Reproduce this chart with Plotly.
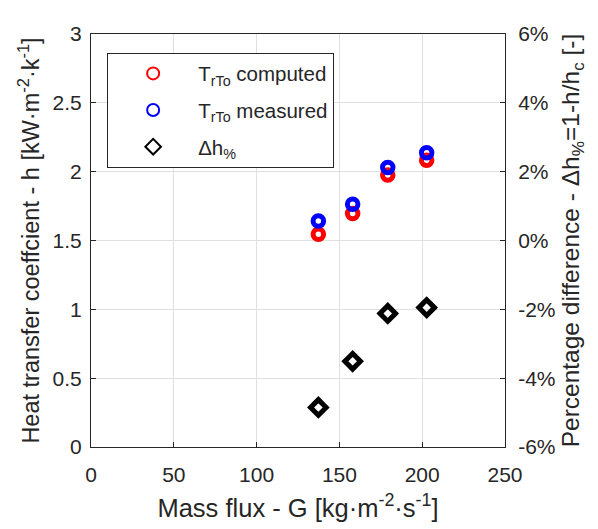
import plotly.graph_objects as go

G = [137.3, 158.0, 179.2, 202.7]
h_computed = [1.546, 1.696, 1.975, 2.083]
h_measured = [1.642, 1.764, 2.030, 2.137]
dh_pct = [-4.85, -3.51, -2.12, -1.95]

x_ticks = [0, 50, 100, 150, 200, 250]
y_ticks = [0, 0.5, 1, 1.5, 2, 2.5, 3]
y_ticktext = ["0", "0.5", "1", "1.5", "2", "2.5", "3"]
y2_ticks = [-6, -4, -2, 0, 2, 4, 6]
y2_ticktext = ["-6%", "-4%", "-2%", "0%", "2%", "4%", "6%"]

FONT = "Liberation Sans, Arial, sans-serif"
AX = "#262626"
GRID = "#e0e0e0"

fig = go.Figure()
fig.add_trace(go.Scatter(
    x=G, y=h_computed, mode="markers", legendgroup="a",
    name="T<sub>rTo</sub> computed",
    marker=dict(symbol="circle-open", size=10.5, color="#ff0000", line=dict(width=5, color="#ff0000")),
))
fig.add_trace(go.Scatter(
    x=G, y=h_measured, mode="markers", legendgroup="b",
    name="T<sub>rTo</sub> measured",
    marker=dict(symbol="circle-open", size=10.5, color="#0000ff", line=dict(width=5, color="#0000ff")),
))
fig.add_trace(go.Scatter(
    x=G, y=dh_pct, mode="markers", yaxis="y2", legendgroup="c",
    name="Δh<sub>%</sub>",
    marker=dict(symbol="diamond-open", size=12, color="#000000", line=dict(width=5, color="#000000")),
))

fig.update_layout(
    width=598, height=529,
    margin=dict(l=91, r=93, t=34, b=82),
    paper_bgcolor="white", plot_bgcolor="white",
    font=dict(family=FONT, size=21, color=AX),
    showlegend=True,
    legend=dict(
        x=0.039, y=0.955, xanchor="left", yanchor="top",
        bgcolor="white", bordercolor=AX, borderwidth=1,
        font=dict(family=FONT, size=20.5, color=AX),
        itemsizing="constant", tracegroupgap=7, itemwidth=80,
        entrywidth=152, entrywidthmode="pixels",
        traceorder="grouped",
    ),
    xaxis=dict(
        range=[0, 250], tickvals=x_ticks, ticks="inside", ticklen=5, tickcolor=AX,
        showline=True, linecolor=AX, linewidth=1, mirror=True,
        showgrid=True, gridcolor=GRID, gridwidth=1, zeroline=False,
        ticklabelstandoff=9,
        title=dict(text="Mass flux - G [kg·m<sup>-2</sup>·s<sup>-1</sup>]", standoff=13,
                   font=dict(size=25.5, color=AX)),
        tickfont=dict(size=21, color=AX),
    ),
    yaxis=dict(
        range=[0, 3], tickvals=y_ticks, ticktext=y_ticktext,
        ticks="inside", ticklen=5, tickcolor=AX,
        showline=True, linecolor=AX, linewidth=1,
        showgrid=True, gridcolor=GRID, gridwidth=1, zeroline=False,
        ticklabelstandoff=4,
        title=dict(text="Heat transfer coeffcient - h [kW·m<sup>-2</sup>·k<sup>-1</sup>]", standoff=6,
                   font=dict(size=23.5, color=AX)),
        tickfont=dict(size=21, color=AX),
    ),
    yaxis2=dict(
        range=[-6, 6], tickvals=y2_ticks, ticktext=y2_ticktext, overlaying="y", side="right",
        ticks="inside", ticklen=5, tickcolor=AX,
        showline=True, linecolor=AX, linewidth=1,
        showgrid=False, zeroline=False,
        ticklabelstandoff=8,
        title=dict(text="Percentage difference - Δh<sub>%</sub>=1-h/h<sub>c</sub> [-]", standoff=7,
                   font=dict(size=24.5, color=AX)),
        tickfont=dict(size=21, color=AX),
    ),
)

fig.write_html("out.html")
